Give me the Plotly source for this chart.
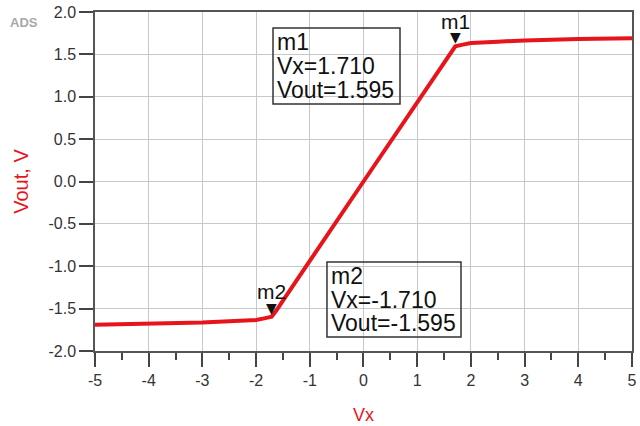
import plotly.graph_objects as go

# transfer curve
vx = [-5.0, -4.0, -3.0, -2.5, -2.0, -1.85, -1.71, -1.62, -1.5, 0.0,
      1.5, 1.62, 1.71, 1.85, 2.0, 2.5, 3.0, 4.0, 5.0]
vout = [-1.69, -1.68, -1.665, -1.65, -1.635, -1.615, -1.595, -1.52, -1.405, 0.0,
        1.405, 1.52, 1.595, 1.615, 1.635, 1.65, 1.665, 1.68, 1.69]

marker_names = ["m1", "m2"]
marker_vx = [1.710, -1.710]
marker_vout = [1.595, -1.595]

x_ticks = [-5, -4, -3, -2, -1, 0, 1, 2, 3, 4, 5]
y_ticks = [-2.0, -1.5, -1.0, -0.5, 0.0, 0.5, 1.0, 1.5, 2.0]

RED = "#e8141c"
FONT = "Liberation Sans, Arial, sans-serif"

fig = go.Figure()
fig.add_trace(go.Scatter(x=vx, y=vout, mode="lines",
                         line=dict(color=RED, width=4), hoverinfo="skip"))

annotations = []
for name, mx, my in zip(marker_names, marker_vx, marker_vout):
    annotations.append(dict(x=mx, y=my, text="\u25bc", showarrow=False,
                            yanchor="bottom", yshift=-1,
                            font=dict(family="DejaVu Sans", size=14, color="#111")))
    annotations.append(dict(x=mx, y=my, text=name, showarrow=False,
                            yanchor="middle", yshift=25,
                            font=dict(family=FONT, size=21, color="#111")))

# readout boxes: (box x0, x1, y0, y1, text x, line y's)
boxes = [
    (-1.685, 0.68, 0.914, 1.811, -1.648, [1.646, 1.363, 1.080]),
    (-0.68, 1.816, -1.835, -0.95, -0.642, [-1.115, -1.398, -1.670]),
]
shapes = []
for (x0, x1, y0, y1, tx, ys), name, mx, my in zip(boxes, marker_names, marker_vx, marker_vout):
    shapes.append(dict(type="rect", xref="x", yref="y", x0=x0, x1=x1, y0=y0, y1=y1,
                       line=dict(color="#333", width=1.5)))
    lines = [name, "Vx=%.3f" % mx, "Vout=%.3f" % my]
    for txt, ty in zip(lines, ys):
        annotations.append(dict(x=tx, y=ty, text=txt, showarrow=False,
                                xanchor="left", yanchor="middle",
                                font=dict(family=FONT, size=23, color="#111")))

annotations.append(dict(xref="paper", yref="paper", x=-0.132, y=0.968, text="<b>ADS</b>",
                        xanchor="center", yanchor="middle", showarrow=False,
                        font=dict(family=FONT, size=13, color="#a8a8a8")))

axis_common = dict(showgrid=True, gridcolor="#c8c8c8", gridwidth=1,
                   showline=True, linecolor="#555", linewidth=1.5, mirror=True,
                   zeroline=False, ticks="outside", ticklen=14, tickcolor="#444",
                   tickwidth=1.5, automargin=False,
                   tickfont=dict(family=FONT, size=16, color="#333"))

fig.update_layout(
    width=640, height=426,
    margin=dict(l=95, r=8, t=12, b=75),
    plot_bgcolor="white", paper_bgcolor="white",
    showlegend=False,
    shapes=shapes, annotations=annotations,
    xaxis=dict(range=[-5, 5.0005], tickvals=x_ticks,
               ticktext=["%d" % t for t in x_ticks],
               minor=dict(dtick=0.5, ticks="outside", ticklen=7, tickcolor="#444",
                          showgrid=False),
               title=dict(text="Vx", standoff=20,
                          font=dict(family=FONT, size=18, color=RED)),
               **axis_common),
    yaxis=dict(range=[-2, 2], tickvals=y_ticks,
               ticktext=["%.1f" % t for t in y_ticks],
               title=dict(text="Vout, V", standoff=14,
                          font=dict(family=FONT, size=20, color=RED)),
               **axis_common),
)

# drop the default 8px page margin so the figure fills the window
fig.write_html("out.html", config={"displayModeBar": False},
               post_script="document.body.style.margin='0';")
